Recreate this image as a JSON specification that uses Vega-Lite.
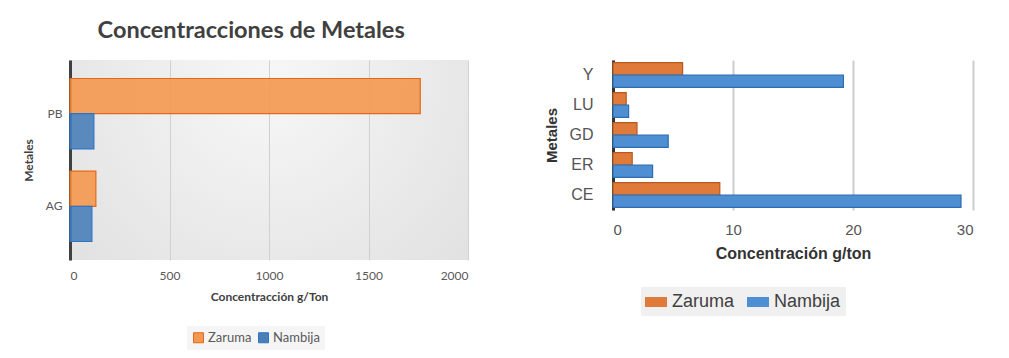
{
  "$schema": "https://vega.github.io/schema/vega-lite/v6.json",
  "background": "white",
  "padding": {"left": 22, "top": 18, "right": 5, "bottom": 5},
  "datasets": {
    "izq": [
      {"Metal": "PB", "Serie": "Zaruma", "Valor": 1760},
      {"Metal": "PB", "Serie": "Nambija", "Valor": 120},
      {"Metal": "AG", "Serie": "Zaruma", "Valor": 130},
      {"Metal": "AG", "Serie": "Nambija", "Valor": 110}
    ],
    "der": [
      {"Metal": "Y", "Serie": "Zaruma", "Valor": 5.8},
      {"Metal": "Y", "Serie": "Nambija", "Valor": 19.2},
      {"Metal": "LU", "Serie": "Zaruma", "Valor": 1.1},
      {"Metal": "LU", "Serie": "Nambija", "Valor": 1.3},
      {"Metal": "GD", "Serie": "Zaruma", "Valor": 2.0},
      {"Metal": "GD", "Serie": "Nambija", "Valor": 4.6},
      {"Metal": "ER", "Serie": "Zaruma", "Valor": 1.6},
      {"Metal": "ER", "Serie": "Nambija", "Valor": 3.3},
      {"Metal": "CE", "Serie": "Zaruma", "Valor": 8.9},
      {"Metal": "CE", "Serie": "Nambija", "Valor": 29.0}
    ]
  },
  "spacing": 76,
  "resolve": {"scale": {"color": "independent", "stroke": "independent", "yOffset": "independent", "x": "independent", "y": "independent"}, "legend": {"color": "independent"}},
  "hconcat": [
    {
      "width": 398,
      "height": 200,
      "title": {"text": "Concentracciones de Metales", "fontSize": 23.5, "font": "Lato", "fontWeight": "bold", "color": "#404040", "anchor": "middle", "frame": "bounds", "offset": 18, "dx": 6},
      "view": {"stroke": null, "fill": {"gradient": "radial", "x1": 0.5, "y1": 0.3, "r1": 0, "x2": 0.5, "y2": 0.3, "r2": 0.9, "stops": [{"offset": 0, "color": "#f7f7f7"}, {"offset": 1, "color": "#dadada"}]}},
      "data": {"name": "izq"},
      "mark": {"type": "bar", "strokeWidth": 1.2, "fillOpacity": 0.9},
      "encoding": {
        "y": {"field": "Metal", "type": "nominal", "sort": ["PB", "AG"],
          "scale": {"paddingInner": 0.24, "paddingOuter": 0.2},
          "axis": {"title": "Metales", "titleFont": "Lato", "titleFontSize": 12, "titleFontWeight": "bold", "titleColor": "#404040", "titlePadding": 10,
            "labelFont": "Lato", "labelFontSize": 12, "labelColor": "#595959", "labelPadding": 8, "ticks": false,
            "domain": true, "domainColor": "#404040", "domainWidth": 3}},
        "yOffset": {"field": "Serie", "sort": ["Zaruma", "Nambija"]},
        "x": {"field": "Valor", "type": "quantitative", "scale": {"domain": [0, 2000]},
          "axis": {"values": [0, 500, 1000, 1500, 2000], "format": "d", "title": "Concentracción g/Ton", "titleFont": "Lato", "titleFontSize": 12, "titleFontWeight": "bold", "titleColor": "#404040", "titlePadding": 10,
            "labelFont": "Lato", "labelFontSize": 12, "labelColor": "#595959", "labelPadding": 10, "ticks": false, "domain": false,
            "grid": true, "gridColor": "#d0d0d0", "gridWidth": 1}},
        "color": {"field": "Serie", "type": "nominal", "scale": {"domain": ["Zaruma", "Nambija"], "range": ["#F4984F", "#4A7FB8"]},
          "legend": {"title": null, "orient": "none", "legendX": 117, "legendY": 266, "direction": "horizontal", "fillColor": "#f5f5f5", "padding": 5,
            "symbolType": "square", "symbolSize": 100, "symbolStrokeColor": "#c55a11", "symbolStrokeWidth": 1,
            "labelFont": "Lato", "labelFontSize": 13, "labelColor": "#595959", "columnPadding": 4, "labelOffset": 3}},
        "stroke": {"field": "Serie", "type": "nominal", "scale": {"domain": ["Zaruma", "Nambija"], "range": ["#E06A1B", "#2E75C5"]}, "legend": null}
      }
    },
    {
      "width": 360,
      "height": 150,
      "view": {"stroke": null, "fill": "white"},
      "data": {"name": "der"},
      "mark": {"type": "bar", "strokeWidth": 1.2},
      "encoding": {
        "y": {"field": "Metal", "type": "nominal", "sort": ["Y", "LU", "GD", "ER", "CE"],
          "scale": {"paddingInner": 0.17, "paddingOuter": 0.085},
          "axis": {"title": "Metales", "titleFont": "Liberation Sans", "titleFontSize": 15, "titleFontWeight": "bold", "titleColor": "#333333", "titlePadding": 10,
            "labelFont": "Liberation Sans", "labelFontSize": 16, "labelColor": "#555555", "labelPadding": 20, "ticks": false,
            "domain": true, "domainColor": "#333333", "domainWidth": 3}},
        "yOffset": {"field": "Serie", "sort": ["Zaruma", "Nambija"]},
        "x": {"field": "Valor", "type": "quantitative", "scale": {"domain": [0, 30]},
          "axis": {"values": [0, 10, 20, 30], "title": "Concentración g/ton", "titleFont": "Liberation Sans", "titleFontSize": 16, "titleFontWeight": "bold", "titleColor": "#333333", "titlePadding": 8,
            "labelFont": "Liberation Sans", "labelFontSize": 15, "labelColor": "#555555", "labelPadding": 12, "ticks": false, "domain": false,
            "grid": true, "gridColor": "#cccccc", "gridWidth": 2}},
        "color": {"field": "Serie", "type": "nominal", "scale": {"domain": ["Zaruma", "Nambija"], "range": ["#E07A3A", "#4E8FD3"]},
          "legend": {"title": null, "orient": "none", "legendX": 28, "legendY": 227, "direction": "horizontal", "fillColor": "#f0f0f0", "padding": 5,
            "symbolType": "M-1.1,-0.5H1.1V0.5H-1.1Z", "symbolSize": 400, "symbolStrokeWidth": 0,
            "labelFont": "Liberation Sans", "labelFontSize": 18, "labelColor": "#404040", "columnPadding": 12, "labelOffset": 6}},
        "stroke": {"field": "Serie", "type": "nominal", "scale": {"domain": ["Zaruma", "Nambija"], "range": ["#B85A20", "#2F6DB0"]}, "legend": null}
      }
    }
  ],
  "config": {"view": {"stroke": null}}
}
